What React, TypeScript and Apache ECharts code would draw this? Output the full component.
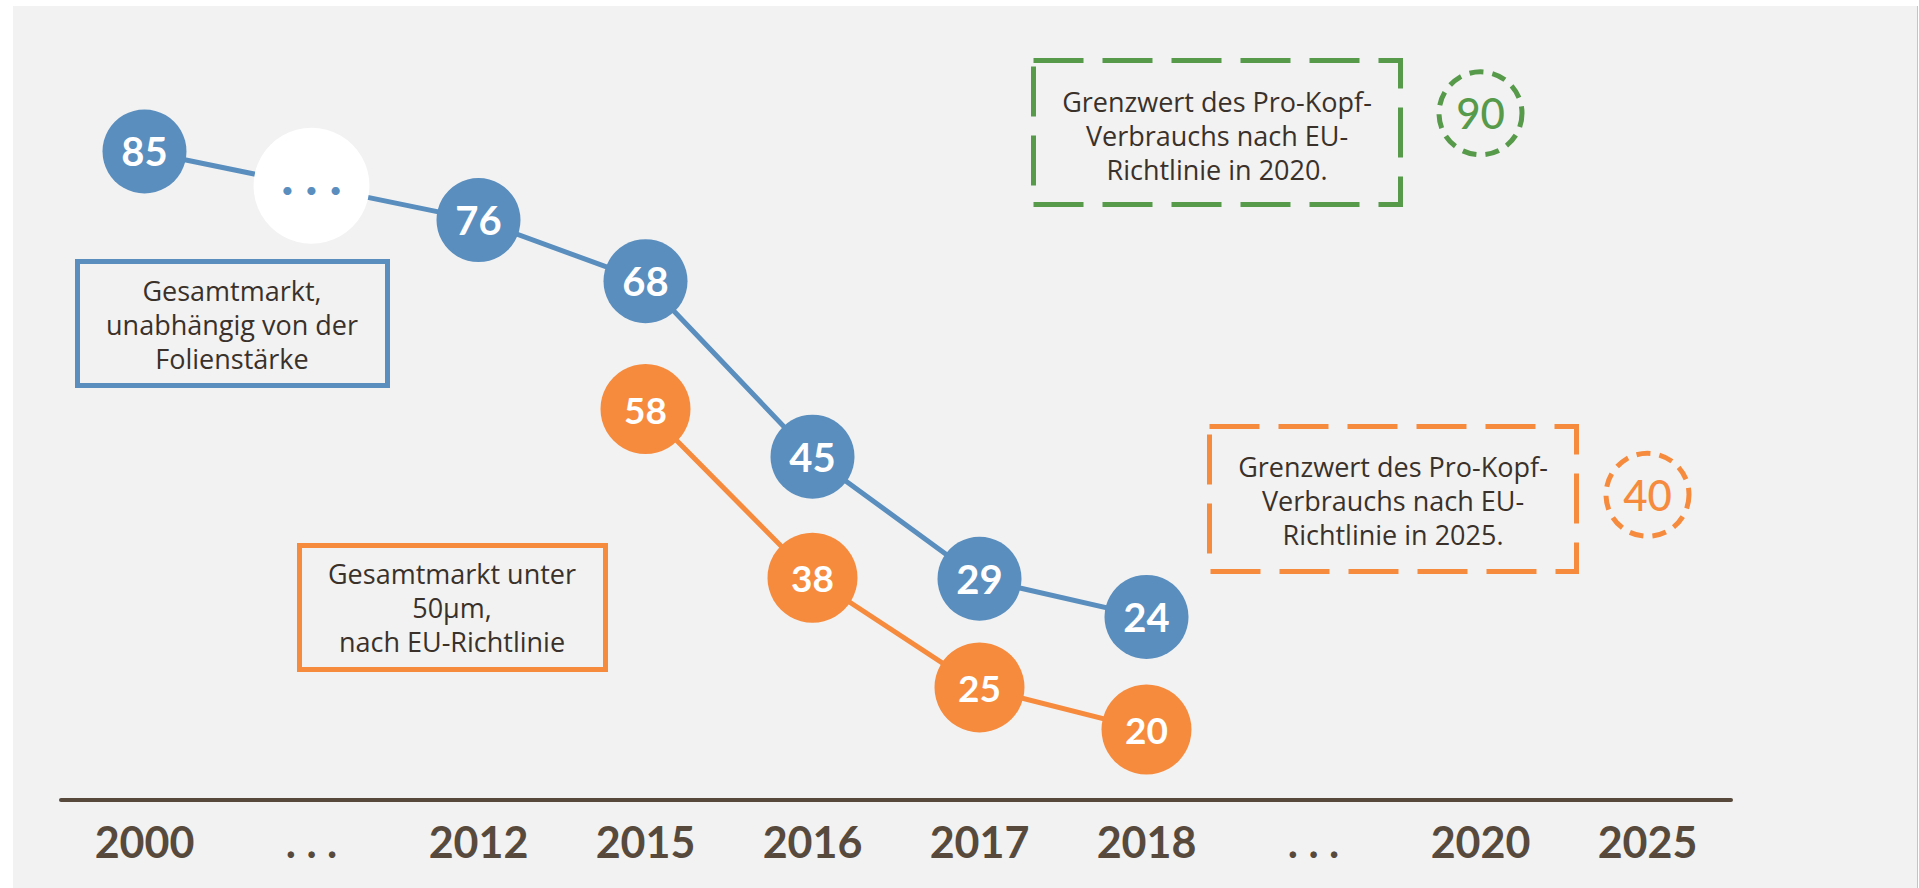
import React, { useEffect, useRef } from 'react';
import * as echarts from 'echarts';

// ---- data ----
const categories = ['2000', '. . .', '2012', '2015', '2016', '2017', '2018', '. . .', '2020', '2025'];
const totalMarket = [85, null, 76, 68, 45, 29, 24, null, null, null];
const gapMarker = [null, 80.5, null, null, null, null, null, null, null, null];
const thinFilmMarket = [null, null, null, 58, 38, 25, 20, null, null, null];
const limit2020 = [null, null, null, null, null, null, null, null, 90, null];
const limit2025 = [null, null, null, null, null, null, null, null, null, 40];

const boxTotal = 'Gesamtmarkt,\nunabhängig von der\nFolienstärke';
const boxThin = 'Gesamtmarkt unter\n50µm,\nnach EU-Richtlinie';
const box2020 = 'Grenzwert des Pro-Kopf-\nVerbrauchs nach EU-\nRichtlinie in 2020.';
const box2025 = 'Grenzwert des Pro-Kopf-\nVerbrauchs nach EU-\nRichtlinie in 2025.';

// ---- styles ----
const BLUE = '#598ebe';
const ORANGE = '#f68b3e';
const GREEN = '#569a4a';
const BROWN = '#574a3d';
const TEXT = '#3a312a';
const FONT = 'Lato, "Open Sans", sans-serif';
const BOX_FONT = '"Open Sans", Lato, sans-serif';

export default function App() {
  const ref = useRef<HTMLDivElement>(null);

  useEffect(() => {
    document.body.style.margin = '0';
    const chart = echarts.init(ref.current!, null, { renderer: 'svg' });
    const boxText = (x: number, y: number, text: string) => ({
      type: 'text',
      x,
      y,
      z: 10,
      style: {
        text,
        textAlign: 'center',
        textVerticalAlign: 'middle',
        fontFamily: BOX_FONT,
        fontSize: 27,
        lineHeight: 34,
        fill: TEXT,
      },
    });
    chart.setOption({
      animation: false,
      backgroundColor: '#ffffff',
      textStyle: { fontFamily: FONT },
      grid: { left: 61, right: 188, top: 37, bottom: 88, containLabel: false },
      xAxis: {
        type: 'category',
        data: categories,
        boundaryGap: true,
        axisLine: { show: true, lineStyle: { color: BROWN, width: 4 } },
        axisTick: { show: false },
        splitLine: { show: false },
        axisLabel: {
          interval: 0,
          margin: 20,
          fontSize: 43,
          fontWeight: 'bold',
          color: BROWN,
          fontFamily: FONT,
        },
      },
      yAxis: [
        { type: 'value', min: 0, max: 100, show: false, splitLine: { show: false } },
        { type: 'value', min: 11.65, max: 102.1, show: false, splitLine: { show: false } },
      ],
      graphic: [
        {
          type: 'rect',
          z: -10,
          shape: { x: 13, y: 6, width: 1905, height: 882 },
          style: { fill: '#f2f2f2' },
        },
        {
          type: 'line',
          z: -9,
          shape: { x1: 1917.5, y1: 6, x2: 1917.5, y2: 888 },
          style: { stroke: '#c4c4c4', lineWidth: 1 },
        },
        {
          type: 'rect',
          z: 9,
          shape: { x: 77.5, y: 261.5, width: 310, height: 124 },
          style: { fill: null, stroke: BLUE, lineWidth: 5 },
        },
        boxText(232, 324, boxTotal),
        {
          type: 'rect',
          z: 9,
          shape: { x: 299.5, y: 545.5, width: 306, height: 124 },
          style: { fill: null, stroke: ORANGE, lineWidth: 5 },
        },
        boxText(452, 607, boxThin),
        {
          type: 'rect',
          z: 9,
          shape: { x: 1033.5, y: 60.5, width: 367, height: 144 },
          style: { fill: null, stroke: GREEN, lineWidth: 5, lineDash: [50, 19] },
        },
        boxText(1217, 135, box2020),
        {
          type: 'rect',
          z: 9,
          shape: { x: 1209.5, y: 426.5, width: 367, height: 145 },
          style: { fill: null, stroke: ORANGE, lineWidth: 5, lineDash: [50, 19] },
        },
        boxText(1393, 500, box2025),
      ],
      series: [
        {
          name: 'Gesamtmarkt',
          type: 'line',
          yAxisIndex: 0,
          data: totalMarket,
          connectNulls: true,
          z: 2,
          symbol: 'circle',
          symbolSize: 84,
          lineStyle: { color: BLUE, width: 5 },
          itemStyle: { color: BLUE, opacity: 1 },
          label: {
            show: true,
            position: 'inside',
            color: '#ffffff',
            fontSize: 40,
            fontWeight: 'bold',
            fontFamily: FONT,
          },
        },
        {
          name: 'Lücke',
          type: 'scatter',
          yAxisIndex: 0,
          data: gapMarker,
          z: 3,
          symbol: 'circle',
          symbolSize: 116,
          itemStyle: { color: '#ffffff', opacity: 1 },
          label: {
            show: true,
            position: 'inside',
            formatter: '•  •  •',
            color: BLUE,
            fontSize: 22,
            offset: [0, 4],
          },
        },
        {
          name: 'Gesamtmarkt unter 50µm',
          type: 'line',
          yAxisIndex: 1,
          data: thinFilmMarket,
          z: 2,
          symbol: 'circle',
          symbolSize: 90,
          lineStyle: { color: ORANGE, width: 5 },
          itemStyle: { color: ORANGE, opacity: 1 },
          label: {
            show: true,
            position: 'inside',
            color: '#ffffff',
            fontSize: 37,
            fontWeight: 'bold',
            fontFamily: FONT,
          },
        },
        {
          name: 'Grenzwert 2020',
          type: 'scatter',
          yAxisIndex: 0,
          data: limit2020,
          z: 4,
          symbol: 'circle',
          symbolSize: 83,
          itemStyle: {
            color: 'rgba(0,0,0,0)',
            borderColor: GREEN,
            borderWidth: 5,
            borderType: [14, 9],
            opacity: 1,
          },
          label: {
            show: true,
            position: 'inside',
            color: GREEN,
            fontSize: 42,
            fontWeight: 500,
            fontFamily: FONT,
          },
        },
        {
          name: 'Grenzwert 2025',
          type: 'scatter',
          yAxisIndex: 0,
          data: limit2025,
          z: 4,
          symbol: 'circle',
          symbolSize: 83,
          itemStyle: {
            color: 'rgba(0,0,0,0)',
            borderColor: ORANGE,
            borderWidth: 5,
            borderType: [14, 9],
            opacity: 1,
          },
          label: {
            show: true,
            position: 'inside',
            color: ORANGE,
            fontSize: 42,
            fontWeight: 500,
            fontFamily: FONT,
          },
        },
      ],
    });
    return () => chart.dispose();
  }, []);

  return <div ref={ref} style={{ width: 1919, height: 888 }} />;
}
